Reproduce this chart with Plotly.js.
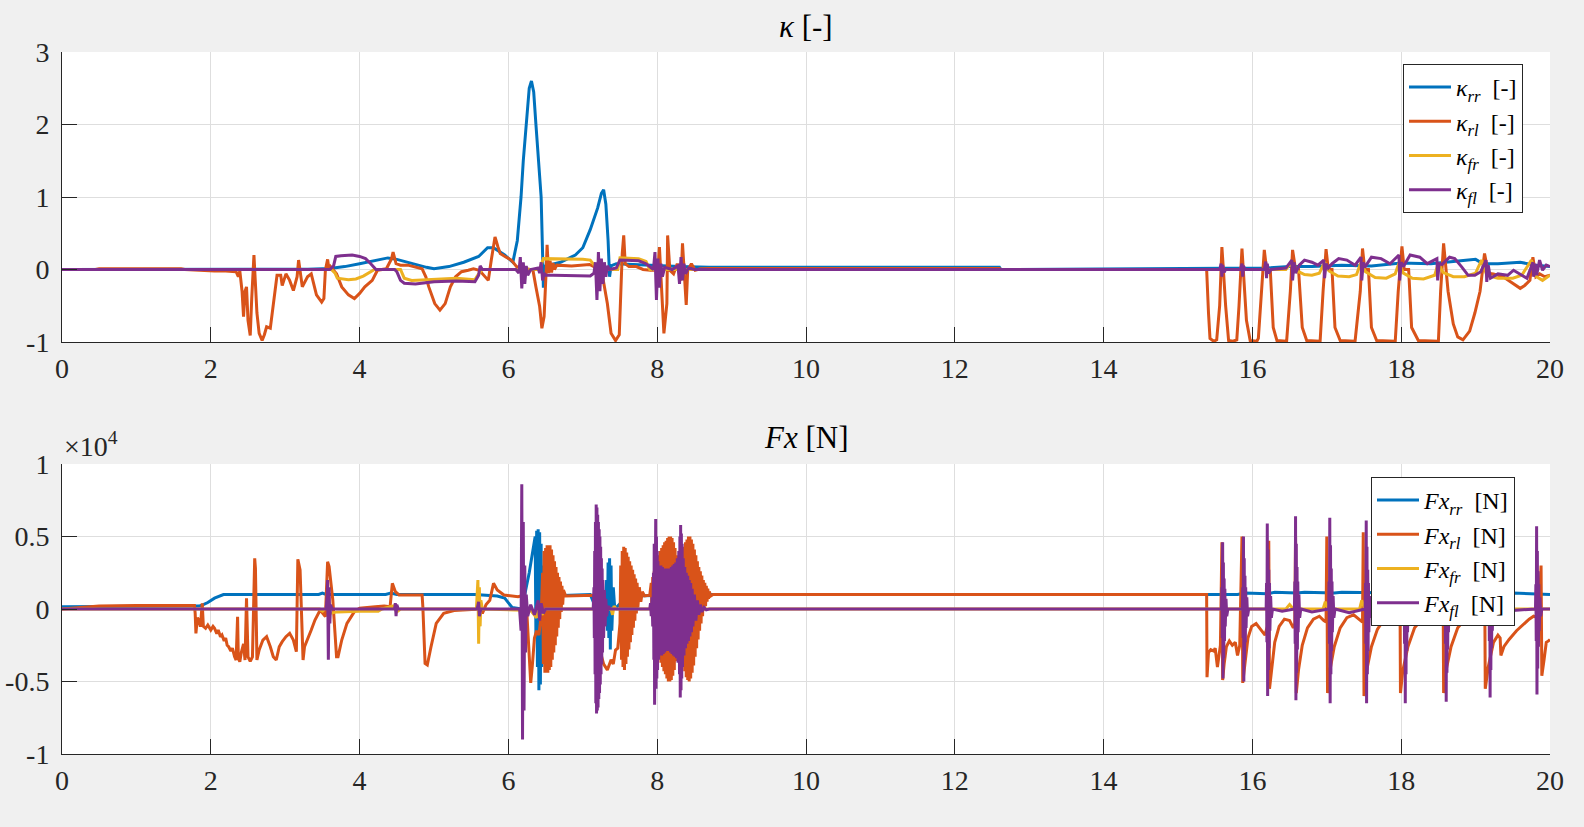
<!DOCTYPE html>
<html>
<head>
<meta charset="utf-8">
<script src="https://cdn.plot.ly/plotly-3.0.1.min.js"></script>
<style>
  html, body { margin: 0; padding: 0; background: #f0f0f0; }
  #chart { width: 1584px; height: 827px; }
</style>
</head>
<body>
<div id="chart"></div>
<script>
// slip ratio per wheel, [t (s), kappa (-)]
let kappa_rr = [[0,0],[1.8,0],[3.0,0],[3.3,0.005],[3.6,0.015],[3.8,0.04],[4.0,0.08],[4.2,0.12],[4.38,0.16],[4.5,0.14],[4.7,0.08],[4.9,0.03],[5.0,0.01],[5.2,0.04],[5.4,0.1],[5.6,0.18],[5.72,0.3],[5.8,0.3],[5.95,0.2],[6.06,0.1],[6.12,0.4],[6.17,1.0],[6.2,1.5],[6.24,2.0],[6.28,2.5],[6.31,2.6],[6.34,2.45],[6.37,2.0],[6.44,1.0],[6.46,0.2],[6.47,-0.25],[6.5,0.05],[6.7,0.1],[6.9,0.2],[7.0,0.3],[7.1,0.55],[7.2,0.85],[7.25,1.05],[7.28,1.1],[7.31,0.9],[7.34,0.4],[7.36,-0.1],[7.38,0.05],[7.45,0.08],[7.8,0.06],[8.0,0.05],[8.3,0.04],[8.7,0.03],[12.6,0.03],[12.62,0],[15.9,0.01],[16.2,0.02],[16.5,0.04],[16.8,0.04],[17.2,0.06],[17.6,0.05],[18.0,0.09],[18.4,0.08],[18.8,0.12],[19.0,0.14],[19.1,0.08],[19.3,0.08],[19.6,0.1],[19.8,0.06],[20,0.04]]

let kappa_rl = [[0,0],[0.45,0],[0.5,0.012],[1.6,0.012],[1.65,0],[1.8,-0.01],[2.05,-0.02],[2.2,-0.02],[2.34,-0.03],[2.37,-0.1],[2.39,-0.02],[2.42,-0.3],[2.44,-0.65],[2.46,-0.3],[2.48,-0.24],[2.5,-0.7],[2.53,-0.91],[2.55,-0.4],[2.58,0.2],[2.6,-0.2],[2.62,-0.6],[2.65,-0.88],[2.69,-0.98],[2.72,-0.9],[2.75,-0.79],[2.8,-0.81],[2.84,-0.51],[2.89,-0.08],[2.94,-0.08],[2.96,-0.22],[3.01,-0.06],[3.06,-0.15],[3.11,-0.29],[3.16,-0.1],[3.18,0.13],[3.23,-0.24],[3.3,-0.1],[3.35,-0.06],[3.42,-0.35],[3.49,-0.45],[3.52,-0.4],[3.54,-0.01],[3.57,0.14],[3.59,-0.01],[3.61,0.04],[3.69,-0.06],[3.76,-0.24],[3.85,-0.35],[3.93,-0.4],[4.0,-0.33],[4.07,-0.24],[4.17,-0.15],[4.24,-0.01],[4.36,0.01],[4.43,0.15],[4.45,0.24],[4.49,0.08],[4.55,0.06],[4.65,0.06],[4.74,0.04],[4.84,0.01],[4.89,-0.1],[4.93,-0.24],[5.01,-0.47],[5.08,-0.56],[5.15,-0.47],[5.22,-0.24],[5.29,-0.1],[5.37,-0.03],[5.46,-0.01],[5.53,0.01],[5.61,-0.01],[5.68,-0.1],[5.73,-0.15],[5.77,0.13],[5.82,0.45],[5.86,0.31],[5.89,0.22],[5.97,0.17],[6.04,0.13],[6.11,0.04],[6.18,-0.01],[6.25,0.01],[6.33,-0.01],[6.37,-0.24],[6.42,-0.51],[6.45,-0.81],[6.48,-0.65],[6.51,0.04],[6.52,0.34],[6.54,-0.05],[6.56,0.12],[6.58,-0.04],[6.6,0.09],[6.62,0.0],[6.65,0.06],[6.85,0.05],[7.09,0.07],[7.17,0.03],[7.26,-0.06],[7.33,-0.47],[7.38,-0.88],[7.44,-0.98],[7.49,-0.9],[7.53,0.22],[7.55,0.47],[7.57,0.08],[7.62,0.04],[7.72,0.04],[7.81,0.0],[7.91,-0.01],[8.01,-0.01],[8.03,0.31],[8.05,-0.1],[8.09,-0.88],[8.13,-0.47],[8.14,0.47],[8.17,-0.01],[8.22,-0.06],[8.27,0.08],[8.32,-0.15],[8.34,0.36],[8.37,-0.15],[8.39,-0.49],[8.41,-0.01],[8.46,0.08],[8.51,-0.01],[8.58,0.01],[8.7,0.015],[12.6,0.015],[12.62,0],[15.385,0],[15.41,-0.6],[15.43,-0.95],[15.48,-0.99],[15.52,-0.97],[15.56,-0.5],[15.59,0.31],[15.61,0],[15.64,-0.5],[15.68,-0.98],[15.74,-0.99],[15.79,-0.97],[15.82,-0.5],[15.86,0.29],[15.88,0],[15.92,-0.7],[15.97,-0.98],[16.06,-0.99],[16.08,-0.95],[16.12,-0.3],[16.16,0.27],[16.19,0],[16.24,0],[16.28,-0.8],[16.33,-0.98],[16.46,-0.99],[16.51,-0.3],[16.54,0.27],[16.58,0],[16.62,0],[16.67,-0.8],[16.73,-0.98],[16.91,-0.99],[16.95,-0.3],[16.99,0.28],[17.02,0],[17.07,0],[17.11,-0.8],[17.18,-0.98],[17.38,-0.99],[17.45,-0.3],[17.48,0.29],[17.51,0],[17.56,0],[17.6,-0.8],[17.67,-0.98],[17.92,-0.99],[17.96,-0.3],[18.01,0.32],[18.04,0],[18.1,0],[18.14,-0.8],[18.23,-0.98],[18.5,-0.99],[18.53,-0.3],[18.57,0.36],[18.6,0],[18.63,-0.3],[18.7,-0.75],[18.76,-0.93],[18.83,-0.97],[18.92,-0.85],[18.99,-0.6],[19.06,-0.3],[19.1,0.05],[19.12,0.22],[19.17,-0.05],[19.24,-0.06],[19.37,-0.1],[19.51,-0.19],[19.6,-0.26],[19.66,-0.22],[19.73,-0.15],[19.77,0.17],[19.81,-0.1],[19.86,-0.06],[19.93,-0.1],[20,-0.08]]

let kappa_fr = [[0,0],[3.62,0],[3.67,-0.05],[3.7,-0.12],[3.85,-0.14],[3.95,-0.13],[4.05,-0.09],[4.15,-0.03],[4.2,0],[4.55,0],[4.6,-0.12],[4.7,-0.15],[5.0,-0.14],[5.3,-0.12],[5.55,-0.14],[5.6,-0.06],[5.65,0],[6.42,0],[6.47,0.15],[6.6,0.15],[7.0,0.14],[7.1,0.13],[7.15,0.06],[7.2,0],[7.47,0],[7.5,0.16],[7.75,0.15],[7.85,0.11],[7.9,0],[16.45,0],[16.51,0.08],[16.6,-0.02],[16.7,-0.07],[16.8,-0.08],[16.9,-0.05],[16.97,0.1],[17.03,-0.02],[17.15,-0.09],[17.3,-0.1],[17.4,-0.07],[17.46,0.1],[17.52,-0.03],[17.65,-0.11],[17.8,-0.12],[17.92,-0.06],[17.97,0.09],[18.03,-0.05],[18.15,-0.12],[18.3,-0.13],[18.45,-0.08],[18.5,0.09],[18.56,-0.04],[18.7,-0.1],[18.85,-0.1],[19.0,-0.05],[19.08,0.13],[19.15,-0.08],[19.3,-0.12],[19.5,-0.12],[19.62,-0.08],[19.75,0.13],[19.82,-0.1],[19.9,-0.15],[20,-0.08]]

let kappa_fl = [[0,0],[3.6,0],[3.65,0.05],[3.68,0.18],[3.75,0.19],[3.9,0.2],[4.0,0.18],[4.08,0.15],[4.15,0.08],[4.22,0],[4.47,0],[4.5,-0.03],[4.55,-0.15],[4.6,-0.19],[4.75,-0.2],[5.0,-0.17],[5.3,-0.16],[5.55,-0.17],[5.6,-0.08],[5.62,0.05],[5.65,0],[6.1,0],[6.14,-0.05],[6.16,0.17],[6.18,-0.26],[6.2,0.1],[6.22,-0.2],[6.24,0.05],[6.26,-0.08],[6.3,0],[6.4,0.02],[6.42,-0.05],[6.44,0.1],[6.46,-0.15],[6.48,-0.05],[6.5,-0.08],[6.6,-0.08],[6.9,-0.08],[7.1,-0.09],[7.15,-0.05],[7.17,0.1],[7.19,-0.42],[7.21,0.24],[7.23,-0.3],[7.25,0.15],[7.27,-0.2],[7.29,0.1],[7.31,-0.1],[7.33,0.05],[7.36,0],[7.45,0.02],[7.5,0.13],[7.75,0.12],[7.85,0.08],[7.95,0],[7.97,0.24],[7.99,-0.42],[8.01,0.15],[8.03,-0.25],[8.05,0.08],[8.07,-0.1],[8.1,0.03],[8.2,0],[8.28,0.05],[8.3,-0.2],[8.32,0.17],[8.34,-0.15],[8.36,0.08],[8.38,-0.06],[8.42,0.02],[8.5,0],[15.56,0],[15.58,0.08],[15.59,-0.1],[15.6,0.06],[15.62,-0.04],[15.64,0],[15.84,0],[15.86,0.08],[15.87,-0.1],[15.88,0.05],[15.9,0],[16.16,0],[16.18,0.11],[16.19,-0.12],[16.2,0.08],[16.22,-0.05],[16.25,0],[16.45,0.02],[16.53,0.13],[16.54,-0.15],[16.56,0.1],[16.58,-0.05],[16.63,0.06],[16.7,0.13],[16.8,0.1],[16.88,0.06],[16.96,0.13],[16.97,-0.12],[16.99,0.08],[17.02,0.02],[17.07,0.08],[17.16,0.15],[17.27,0.13],[17.38,0.06],[17.46,0.17],[17.47,-0.15],[17.49,0.1],[17.51,0.03],[17.6,0.17],[17.73,0.15],[17.85,0.08],[17.97,0.2],[17.98,-0.15],[18.0,0.1],[18.03,0.04],[18.12,0.2],[18.25,0.17],[18.35,0.08],[18.48,0.15],[18.49,-0.15],[18.51,0.08],[18.55,0.07],[18.65,0.17],[18.72,0.15],[18.81,0.04],[18.9,-0.08],[18.99,-0.08],[19.07,-0.03],[19.14,0.13],[19.15,-0.17],[19.17,0.06],[19.2,-0.12],[19.3,-0.06],[19.43,-0.08],[19.51,-0.01],[19.6,-0.06],[19.69,-0.12],[19.77,0.1],[19.78,-0.1],[19.8,0.08],[19.82,-0.08],[19.86,0.13],[19.9,-0.01],[19.95,0.06],[20,0.04]]

// longitudinal tyre force per wheel, [t (s), Fx (N)]
let fx_rr = [[0,150],[1.84,200],[1.9,300],[1.96,450],[2.05,750],[2.17,1000],[3.45,1000],[3.5,1100],[3.55,1000],[4.35,1000],[4.42,1100],[4.5,1000],[5.55,1000],[5.7,950],[5.85,900],[5.95,750],[6.0,400],[6.05,100],[6.18,0],[6.28,2500],[6.36,5000],[6.37,-2000],[6.38,5400],[6.39,-4000],[6.4,5500],[6.41,-5600],[6.42,5300],[6.43,-5200],[6.44,4500],[6.45,-4000],[6.46,3000],[6.47,-2500],[6.48,1500],[6.49,-800],[6.51,500],[6.55,900],[7.1,1000],[7.15,300],[7.18,0],[7.3,0],[7.32,2000],[7.33,-1500],[7.34,3200],[7.35,-2000],[7.36,3500],[7.37,-2800],[7.38,3000],[7.39,-1500],[7.41,1500],[7.43,0],[7.5,400],[7.6,900],[8.75,1000],[15.4,1000],[15.8,1000],[15.9,1100],[16.2,1050],[16.3,1150],[16.6,1100],[16.7,1150],[17.1,1100],[17.2,1150],[17.6,1100],[18.0,1100],[18.5,1100],[19.0,1050],[19.5,1100],[20,1000]]

let fx_rl = [[0,0],[0.5,200],[1.0,250],[1.78,250],[1.79,-300],[1.8,-1680],[1.82,-600],[1.84,-760],[1.86,-1220],[1.885,390],[1.9,-1200],[1.93,-1330],[1.96,-1100],[2.0,-1450],[2.03,-1200],[2.05,-1330],[2.08,-1700],[2.1,-1450],[2.13,-1910],[2.15,-1790],[2.18,-2200],[2.2,-2000],[2.22,-2500],[2.24,-2600],[2.27,-2900],[2.29,-2700],[2.32,-3300],[2.34,-3520],[2.36,-530],[2.37,-3400],[2.39,-3630],[2.41,-3000],[2.44,-2400],[2.46,-3520],[2.48,740],[2.5,-3300],[2.53,-3600],[2.56,-3300],[2.59,3490],[2.6,2800],[2.62,-3520],[2.65,-2830],[2.7,-2140],[2.75,-1910],[2.8,-2600],[2.84,-3290],[2.88,-3520],[2.92,-2600],[2.96,-2250],[3.01,-1910],[3.06,-1680],[3.11,-2140],[3.15,-2940],[3.17,3430],[3.2,2690],[3.24,-3520],[3.26,-2600],[3.3,-2140],[3.35,-1450],[3.4,-760],[3.47,-70],[3.54,-530],[3.57,3260],[3.59,2920],[3.64,620],[3.69,-3290],[3.71,-3290],[3.76,-2140],[3.83,-990],[3.93,-180],[4.0,50],[4.21,160],[4.33,210],[4.41,160],[4.44,1770],[4.48,1200],[4.53,970],[4.84,970],[4.85,160],[4.88,-3750],[4.91,-3860],[4.96,-2600],[5.03,-990],[5.13,-300],[5.27,-110],[5.56,-20],[5.61,160],[5.65,-300],[5.7,300],[5.75,600],[5.8,1770],[5.85,1310],[5.94,970],[6.13,850],[6.2,950],[6.24,500],[6.27,-2500],[6.3,-5100],[6.32,-4000],[6.35,-2000],[6.38,-1500],[6.41,-1800],[6.44,-500],[6.46,2500],[6.47,-3800],[6.48,4000],[6.49,-4400],[6.5,4200],[6.51,-4300],[6.52,4400],[6.53,-4400],[6.54,4400],[6.55,-4200],[6.56,4400],[6.57,-4000],[6.58,4100],[6.59,-3500],[6.6,3700],[6.61,-3000],[6.62,3300],[6.63,-2500],[6.64,2900],[6.65,-1900],[6.66,2500],[6.67,-1300],[6.68,2200],[6.69,-700],[6.7,1900],[6.71,-200],[6.72,1600],[6.73,300],[6.74,1300],[6.77,900],[7.15,950],[7.18,400],[7.2,-1500],[7.23,-2830],[7.28,-3800],[7.33,-4200],[7.36,-3700],[7.38,-3500],[7.41,-3800],[7.44,-2830],[7.47,-2700],[7.5,-1000],[7.51,3000],[7.52,-3500],[7.53,4000],[7.54,-4000],[7.55,4300],[7.56,-4200],[7.57,4200],[7.58,-3800],[7.59,3900],[7.6,-3300],[7.61,3600],[7.62,-2800],[7.63,3300],[7.64,-2300],[7.65,3000],[7.66,-1800],[7.67,2700],[7.68,-1300],[7.69,2400],[7.7,-800],[7.71,2100],[7.72,-300],[7.73,1800],[7.74,100],[7.76,1500],[7.78,500],[7.8,1200],[7.83,900],[7.9,950],[7.92,1800],[7.93,-200],[7.94,2200],[7.95,-800],[7.96,2600],[7.97,-1500],[7.98,3000],[7.99,-2200],[8.0,3400],[8.01,-2800],[8.02,3700],[8.03,-3300],[8.04,4000],[8.05,-3700],[8.06,4200],[8.07,-4000],[8.08,4400],[8.09,-4300],[8.1,4600],[8.11,-4500],[8.12,4700],[8.13,-4800],[8.14,4900],[8.15,-5000],[8.16,5000],[8.17,-5000],[8.18,5000],[8.19,-4900],[8.2,4900],[8.21,-4600],[8.22,4600],[8.23,-4200],[8.24,4200],[8.25,-3600],[8.26,3700],[8.27,-3200],[8.28,3400],[8.29,-2900],[8.3,3200],[8.31,-3000],[8.32,3500],[8.33,-3400],[8.34,3900],[8.35,-3900],[8.36,4300],[8.37,-4300],[8.38,4600],[8.39,-4700],[8.4,4800],[8.41,-4900],[8.42,5000],[8.43,-5000],[8.44,5000],[8.45,-4800],[8.46,4800],[8.47,-4400],[8.48,4500],[8.49,-3900],[8.5,4100],[8.51,-3300],[8.52,3700],[8.53,-2700],[8.54,3300],[8.55,-2100],[8.56,2900],[8.57,-1500],[8.58,2600],[8.59,-1000],[8.6,2300],[8.61,-500],[8.62,2000],[8.63,-100],[8.64,1800],[8.65,200],[8.66,1600],[8.67,500],[8.68,1400],[8.69,700],[8.7,1200],[8.72,900],[8.75,1000],[15.385,1000],[15.39,-4700],[15.41,-3000],[15.44,-2800],[15.48,-2900],[15.5,-2700],[15.53,-4000],[15.55,-3000],[15.57,-2500],[15.59,4600],[15.6,-4900],[15.62,-3800],[15.65,-2600],[15.69,-2200],[15.73,-2500],[15.77,-2300],[15.8,-3200],[15.83,-2500],[15.86,5000],[15.87,-5100],[15.9,-3800],[15.94,-2000],[15.99,-1200],[16.05,-1000],[16.11,-1400],[16.17,-1800],[16.2,-1200],[16.22,4700],[16.23,-5500],[16.26,-4000],[16.3,-2300],[16.36,-1200],[16.43,-700],[16.5,-800],[16.55,-1300],[16.57,-1000],[16.58,5000],[16.59,-5800],[16.62,-4200],[16.67,-2500],[16.74,-1300],[16.82,-700],[16.9,-500],[16.96,-800],[16.99,-900],[17.0,5000],[17.01,-5800],[17.04,-4300],[17.1,-2600],[17.18,-1300],[17.27,-600],[17.36,-400],[17.44,-700],[17.48,-900],[17.49,5300],[17.5,-6000],[17.53,-4400],[17.6,-2600],[17.68,-1400],[17.77,-700],[17.86,-500],[17.93,-800],[17.97,-900],[17.98,5000],[17.99,-5800],[18.02,-4300],[18.09,-2600],[18.18,-1300],[18.28,-700],[18.38,-500],[18.47,-700],[18.54,-1000],[18.56,5000],[18.57,-5800],[18.6,-4300],[18.67,-2600],[18.76,-1300],[18.86,-700],[18.96,-600],[19.05,-800],[19.11,-1000],[19.12,4000],[19.13,-5500],[19.17,-4000],[19.24,-2300],[19.3,-1800],[19.33,-2000],[19.34,-3200],[19.38,-2600],[19.45,-2100],[19.55,-1500],[19.65,-1000],[19.72,-700],[19.78,-500],[19.85,-600],[19.88,3000],[19.89,-4600],[19.92,-3500],[19.95,-2300],[19.98,-2200],[20,-2100]]

let fx_fr = [[0,0],[3.45,0],[3.5,-150],[3.56,150],[3.6,-300],[3.7,-200],[4.0,-150],[4.25,-150],[4.3,0],[4.45,200],[4.5,-200],[4.55,0],[5.57,0],[5.59,2000],[5.6,-2400],[5.61,1500],[5.62,-1200],[5.63,600],[5.65,0],[6.3,-100],[6.38,-600],[6.42,300],[6.45,-400],[6.5,0],[7.38,0],[7.4,-400],[7.42,200],[7.45,0],[16.45,0],[16.5,300],[16.55,0],[16.95,0],[16.98,500],[17.02,0],[17.44,0],[17.47,600],[17.51,0],[17.93,0],[17.96,400],[18.0,0],[18.5,0],[18.55,400],[18.6,0],[19.1,0],[19.15,300],[19.2,0],[20,0]]

let fx_fl = [[0,0],[3.55,0],[3.565,1000],[3.57,2000],[3.58,-3500],[3.59,1500],[3.6,-1000],[3.61,300],[3.63,0],[4.47,0],[4.48,400],[4.49,-500],[4.5,300],[4.52,0],[5.58,0],[5.6,500],[5.61,-500],[5.63,0],[6.15,0],[6.17,-1500],[6.18,8600],[6.19,-9000],[6.2,6000],[6.21,-7000],[6.22,3000],[6.23,-3000],[6.24,1000],[6.26,-500],[6.3,300],[6.35,-400],[6.4,600],[6.42,-800],[6.44,400],[6.47,-300],[6.5,0],[7.14,0],[7.15,1500],[7.155,-2000],[7.16,4000],[7.165,-4500],[7.17,6000],[7.175,-6500],[7.18,7200],[7.185,-7200],[7.19,7000],[7.195,-7000],[7.2,6500],[7.205,-6800],[7.21,6000],[7.215,-6200],[7.22,5500],[7.225,-5800],[7.23,5000],[7.235,-5200],[7.24,4300],[7.245,-4500],[7.25,3500],[7.255,-3800],[7.26,2800],[7.265,-3000],[7.27,2000],[7.28,-2000],[7.29,1300],[7.3,-1200],[7.31,700],[7.32,-500],[7.34,200],[7.37,0],[7.9,0],[7.91,400],[7.92,-500],[7.93,800],[7.94,-1200],[7.95,2500],[7.955,-3500],[7.96,4500],[7.965,-6600],[7.97,6000],[7.975,-6000],[7.98,6200],[7.985,-5500],[7.99,5000],[7.995,-4800],[8.0,4000],[8.005,-4200],[8.01,3300],[8.02,-3500],[8.03,2800],[8.04,-3000],[8.05,3000],[8.06,-3200],[8.07,2900],[8.08,-3100],[8.09,2800],[8.1,-3000],[8.11,2800],[8.12,-2900],[8.13,2700],[8.14,-2900],[8.15,2800],[8.16,-2900],[8.17,2800],[8.18,-3000],[8.19,2900],[8.2,-3100],[8.21,3000],[8.22,-3200],[8.23,3100],[8.24,-3300],[8.25,3200],[8.26,-3400],[8.27,3500],[8.28,-3700],[8.29,4000],[8.3,-4500],[8.305,5000],[8.31,-6100],[8.315,5800],[8.32,-5600],[8.325,5200],[8.33,-4800],[8.335,4500],[8.34,-4000],[8.35,3500],[8.36,-3200],[8.37,2900],[8.38,-2700],[8.39,2500],[8.4,-2400],[8.41,2300],[8.42,-2200],[8.43,2000],[8.44,-1900],[8.45,1800],[8.46,-1600],[8.47,1400],[8.48,-1200],[8.5,1000],[8.52,-800],[8.54,600],[8.56,-400],[8.58,300],[8.6,-200],[8.63,100],[8.66,-50],[8.7,0],[15.585,0],[15.59,1500],[15.595,-2000],[15.6,4600],[15.605,-4800],[15.61,3200],[15.615,-3400],[15.62,2100],[15.625,-2200],[15.63,1400],[15.635,-1200],[15.645,700],[15.655,-500],[15.67,0],[15.865,0],[15.87,1500],[15.875,-2000],[15.88,5000],[15.885,-5000],[15.89,3500],[15.895,-3500],[15.9,2300],[15.905,-2300],[15.91,1500],[15.915,-1300],[15.925,800],[15.935,-500],[15.95,0],[16.185,0],[16.19,1800],[16.195,-2300],[16.2,5900],[16.205,-6000],[16.21,4100],[16.215,-4200],[16.22,2700],[16.225,-2700],[16.23,1800],[16.235,-1500],[16.245,900],[16.255,-600],[16.27,0],[16.4,-150],[16.565,0],[16.57,1900],[16.575,-2400],[16.58,6400],[16.585,-6300],[16.59,4500],[16.595,-4400],[16.6,2900],[16.605,-2800],[16.61,1900],[16.615,-1600],[16.625,1000],[16.635,-600],[16.65,0],[16.8,-200],[17.025,0],[17.03,1900],[17.035,-2400],[17.04,6300],[17.045,-6500],[17.05,4400],[17.055,-4500],[17.06,2800],[17.065,-2900],[17.07,1900],[17.075,-1600],[17.085,900],[17.095,-600],[17.11,0],[17.3,-250],[17.515,0],[17.52,1800],[17.525,-2400],[17.53,6100],[17.535,-6500],[17.54,4300],[17.545,-4500],[17.55,2700],[17.555,-2900],[17.56,1800],[17.565,-1600],[17.575,900],[17.585,-600],[17.6,0],[17.8,-200],[18.035,0],[18.04,1800],[18.045,-2400],[18.05,6000],[18.055,-6500],[18.06,4200],[18.065,-4500],[18.07,2700],[18.075,-2900],[18.08,1800],[18.085,-1600],[18.095,900],[18.105,-600],[18.12,0],[18.3,-250],[18.585,0],[18.59,1800],[18.595,-2400],[18.6,6000],[18.605,-6400],[18.61,4200],[18.615,-4400],[18.62,2700],[18.625,-2800],[18.63,1800],[18.635,-1600],[18.645,900],[18.655,-600],[18.67,0],[18.9,-200],[19.175,0],[19.18,1600],[19.185,-2200],[19.19,5500],[19.195,-6100],[19.2,3900],[19.205,-4200],[19.21,2500],[19.215,-2700],[19.22,1600],[19.225,-1500],[19.235,800],[19.245,-500],[19.26,0],[19.5,-100],[19.805,0],[19.81,1700],[19.815,-2200],[19.82,5700],[19.825,-5900],[19.83,4000],[19.835,-4100],[19.84,2600],[19.845,-2600],[19.85,1700],[19.855,-1500],[19.865,800],[19.875,-500],[19.89,0],[20,0]]

let colors = ["#0072BD", "#D95319", "#EDB120", "#7E2F8E"]
let wheels = ["rr", "rl", "fr", "fl"]
let timeTicks = [0, 2, 4, 6, 8, 10, 12, 14, 16, 18, 20]
let kappaTicks = [-1, 0, 1, 2, 3]
let kappaTickText = ["-1", "0", "1", "2", "3"]
let fxTicks = [-10000, -5000, 0, 5000, 10000]
let fxTickText = ["-1", "-0.5", "0", "0.5", "1"]

let fontName = "'Liberation Serif', 'Times New Roman', serif"
let ink = "#262626"

function makeTrace(pairs, num, axis, legendId, label) {
    return {
        x: pairs.map(p => p[0]),
        y: pairs.map(p => p[1]),
        type: 'scatter',
        mode: 'lines',
        xaxis: axis == 1 ? 'x' : 'x2',
        yaxis: axis == 1 ? 'y' : 'y2',
        legend: legendId,
        name: label,
        line: { color: colors[num], width: 3 },
        hoverinfo: 'skip'
    }
}

let kappaData = [kappa_rr, kappa_rl, kappa_fr, kappa_fl]
let fxData = [fx_rr, fx_rl, fx_fr, fx_fl]
let traces = []
kappaData.forEach((d, i) => {
    traces.push(makeTrace(d, i, 1, 'legend', `<i>κ</i><sub><i>${wheels[i]}</i></sub>  [-]`))
})
fxData.forEach((d, i) => {
    traces.push(makeTrace(d, i, 2, 'legend2', `<i>Fx</i><sub><i>${wheels[i]}</i></sub>  [N]`))
})

function xAxis(anchor) {
    return {
        domain: [62 / 1584, 1550 / 1584],
        range: [0, 20],
        anchor: anchor,
        tickvals: timeTicks,
        ticks: 'inside', ticklen: 15, tickcolor: ink, tickwidth: 1,
        showline: true, linecolor: ink, linewidth: 1,
        showgrid: true, gridcolor: '#dedede', gridwidth: 1,
        zeroline: false,
        ticklabelstandoff: 1,
        tickfont: { family: fontName, size: 28, color: ink }
    }
}
function yAxis(anchor, dom, rng, vals, text) {
    return {
        domain: dom,
        range: rng,
        anchor: anchor,
        tickvals: vals, ticktext: text,
        ticks: 'inside', ticklen: 15, tickcolor: ink, tickwidth: 1,
        showline: true, linecolor: ink, linewidth: 1,
        showgrid: true, gridcolor: '#dedede', gridwidth: 1,
        zeroline: false,
        ticklabelstandoff: 6,
        tickfont: { family: fontName, size: 28, color: ink }
    }
}

function legendStyle(px, py, textWidth) {
    return {
        x: px / 1584, y: 1 - py / 827,
        xanchor: 'left', yanchor: 'top',
        bgcolor: 'white', bordercolor: ink, borderwidth: 1,
        font: { family: fontName, size: 24, color: 'black' },
        itemwidth: 42,
        entrywidth: textWidth,
        tracegroupgap: 0
    }
}

let layout = {
    width: 1584, height: 827,
    margin: { l: 0, r: 0, t: 0, b: 0 },
    paper_bgcolor: '#f0f0f0',
    plot_bgcolor: 'white',
    showlegend: true,
    xaxis: xAxis('y'),
    yaxis: yAxis('x', [1 - 342 / 827, 1 - 52 / 827], [-1, 3], kappaTicks, kappaTickText),
    xaxis2: xAxis('y2'),
    yaxis2: yAxis('x2', [1 - 754 / 827, 1 - 464 / 827], [-10000, 10000], fxTicks, fxTickText),
    legend: legendStyle(1403, 64, 90),
    legend2: legendStyle(1371, 477, 124),
    annotations: [
        { text: '<i>κ</i> [-]', xref: 'paper', yref: 'paper', x: 806 / 1584, y: 1 - 27 / 827,
          xanchor: 'center', yanchor: 'middle', showarrow: false,
          font: { family: fontName, size: 31, color: 'black' } },
        { text: '<i>Fx</i> [N]', xref: 'paper', yref: 'paper', x: 806 / 1584, y: 1 - 437 / 827,
          xanchor: 'center', yanchor: 'middle', showarrow: false,
          font: { family: fontName, size: 31, color: 'black' } },
        { text: '×10<sup>4</sup>', xref: 'paper', yref: 'paper', x: 62 / 1584, y: 1 - 444 / 827,
          xanchor: 'left', yanchor: 'middle', showarrow: false,
          font: { family: fontName, size: 28, color: ink } }
    ]
}

Plotly.newPlot('chart', traces, layout, { staticPlot: true, displayModeBar: false })
</script>
</body>
</html>
